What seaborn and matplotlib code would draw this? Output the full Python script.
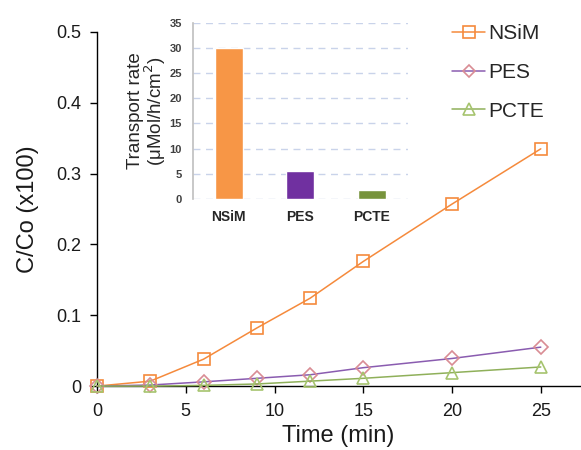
import matplotlib
matplotlib.use("Agg")
import matplotlib.pyplot as plt
import seaborn as sns
import pandas as pd

# ==========================================================
# DATA
# ==========================================================

time_min = [0, 3, 6, 9, 12, 15, 20, 25]

nsim = [0, 0.007, 0.038, 0.082, 0.124, 0.176, 0.257, 0.335]
pes = [0, 0.0015, 0.006, 0.011, 0.016, 0.026, 0.039, 0.055]
pcte = [0, 0.0, 0.001, 0.003, 0.007, 0.011, 0.019, 0.027]

membranes = ["NSiM", "PES", "PCTE"]
transport_rate = [30, 5.6, 1.8]

# ==========================================================
# STYLE
# ==========================================================

sns.set_style("ticks")
plt.rcParams["font.family"] = ["Liberation Sans", "DejaVu Sans"]

fig = plt.figure(figsize=(5.81, 4.5), dpi=100)

ax = fig.add_axes([0.167, 0.142, 0.831, 0.787])

series = [
    ("NSiM", nsim, "#F58A3C", "s", "#F58A3C"),
    ("PES", pes, "#8A5CB0", "D", "#D98C94"),
    ("PCTE", pcte, "#8FB05A", "^", "#A6C46E"),
]

handles = []

for name, vals, lc, mk, mc in series:

    df = pd.DataFrame({"t": time_min, "v": vals})

    sns.lineplot(
        data=df, x="t", y="v", ax=ax,
        color=lc, linewidth=1.1,
        marker=mk, markersize=9 if mk != "D" else 7,
        markerfacecolor="none", markeredgecolor=mc,
        markeredgewidth=1.2, clip_on=False, zorder=3
    )

    h, = ax.plot([], [], color=lc, linewidth=1.1, marker=mk,
                 markersize=8 if mk != "D" else 6,
                 markerfacecolor="none", markeredgecolor=mc,
                 markeredgewidth=1.2)
    handles.append(h)

ax.set_xlim(0, 27.2)
ax.set_ylim(0, 0.5)
ax.set_xticks([0, 5, 10, 15, 20, 25])
ax.set_yticks([0, 0.1, 0.2, 0.3, 0.4, 0.5])
ax.set_yticklabels(["0", "0.1", "0.2", "0.3", "0.4", "0.5"])

ax.tick_params(labelsize=13, length=5, width=1, color="black",
               labelcolor="#1a1a1a")
ax.tick_params(axis="x", pad=7)
ax.tick_params(axis="y", pad=6)

ax.set_xlabel("Time (min)", fontsize=17, color="#1a1a1a", labelpad=4)
ax.set_ylabel("C/Co (x100)", fontsize=17, color="#1a1a1a", labelpad=13)

sns.despine(ax=ax)

for s in ["left", "bottom"]:
    ax.spines[s].set_color("black")
    ax.spines[s].set_linewidth(1)

ax.legend(
    handles, [s[0] for s in series],
    loc="upper right", bbox_to_anchor=(0.965, 1.075),
    frameon=False, fontsize=15, handlelength=1.6,
    handletextpad=0.15, labelspacing=0.95
)

# ==========================================================
# INSET BAR CHART
# ==========================================================

ins = fig.add_axes([0.332, 0.558, 0.370, 0.391])

bar_df = pd.DataFrame({"Membrane": membranes, "Rate": transport_rate})

sns.barplot(
    data=bar_df, x="Membrane", y="Rate", ax=ins,
    hue="Membrane", palette=["#F79646", "#7030A0", "#77933C"],
    width=0.39, legend=False, saturation=1, zorder=3
)

ins.set_ylim(0, 35)
ins.set_yticks(range(0, 36, 5))
ins.set_xlim(-0.5, 2.5)
ins.set_facecolor("none")

ins.yaxis.grid(True, linestyle=(0, (5, 4)), color="#C9D3EA", linewidth=1)
ins.set_axisbelow(True)

for s in ["top", "right", "bottom"]:
    ins.spines[s].set_visible(False)
ins.spines["left"].set_color("#BFBFBF")
ins.spines["left"].set_linewidth(1.2)

ins.tick_params(axis="y", length=0, labelsize=8, labelcolor="#404040", pad=8)
ins.tick_params(axis="x", length=0, labelsize=10, labelcolor="#262626", pad=8)

for lbl in ins.get_yticklabels() + ins.get_xticklabels():
    lbl.set_fontweight("bold")

ins.set_xlabel("")
ins.set_ylabel("Transport rate\n(μMol/h/cm$^2$)", fontsize=13.5,
               color="#262626", labelpad=1, linespacing=0.9)

fig.savefig("out.png", dpi=100)
plt.close()
